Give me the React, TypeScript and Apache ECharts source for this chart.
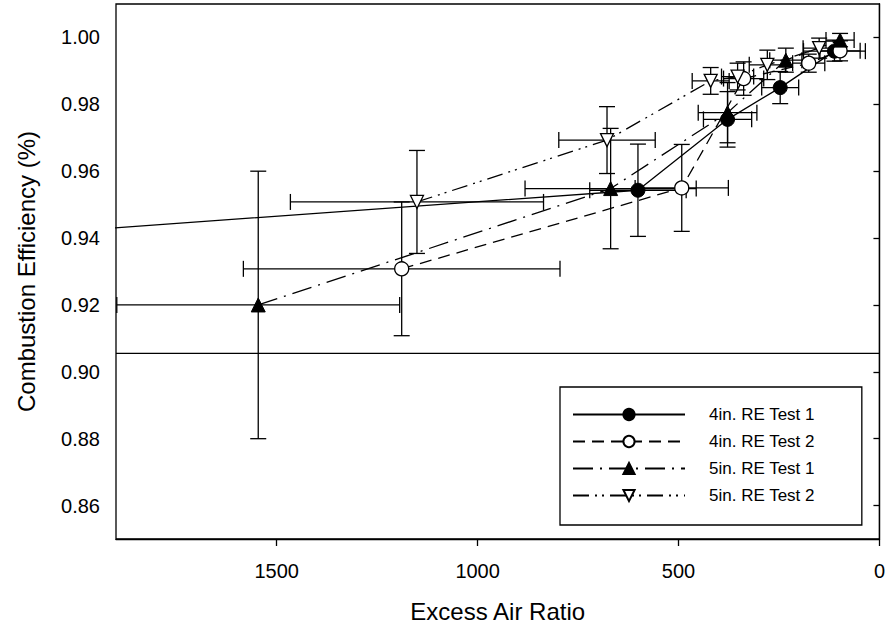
import React, { useEffect, useRef } from "react";
import * as echarts from "echarts";

// 4in. RE Test 1 (first point lies beyond the x-axis range; only its line segment shows)
const t41X = [2500, 601, 378, 247, 112];
const t41Y = [0.9379, 0.9543, 0.9755, 0.985, 0.9959];
const t41XErr = [0, 120, 60, 46, 77];
const t41YErr = [0, 0.0138, 0.0083, 0.0048, 0.003];

// 4in. RE Test 2
const t42X = [1189, 492, 338, 176, 98];
const t42Y = [0.9308, 0.955, 0.9877, 0.9923, 0.996];
const t42XErr = [394, 116, 50, 40, 50];
const t42YErr = [0.02, 0.013, 0.005, 0.0027, 0.003];

// 5in. RE Test 1
const t51X = [1546, 669, 378, 233, 98];
const t51Y = [0.92, 0.9548, 0.9775, 0.9932, 0.9992];
const t51XErr = [352, 213, 73, 40, 35];
const t51YErr = [0.04, 0.018, 0.009, 0.0036, 0.002];

// 5in. RE Test 2
const t52X = [1151, 678, 420, 353, 279, 150];
const t52Y = [0.9508, 0.9693, 0.987, 0.9883, 0.9918, 0.9968];
const t52XErr = [315, 120, 46, 40, 45, 40];
const t52YErr = [0.0154, 0.01, 0.004, 0.004, 0.0044, 0.003];

const refLineY = 0.9055;
const refLineX = [1900, 0];

const xTicks = [0, 500, 1000, 1500];
const yTicks = [0.86, 0.88, 0.9, 0.92, 0.94, 0.96, 0.98, 1.0];
const seriesNames = ["4in. RE Test 1", "4in. RE Test 2", "5in. RE Test 1", "5in. RE Test 2"];

const FONT = "'Liberation Sans', Arial, sans-serif";

const zip2 = (xs: number[], ys: number[]) => xs.map((x, i) => [x, ys[i]]);
const zip4 = (xs: number[], ys: number[], ex: number[], ey: number[]) =>
  xs.map((x, i) => [x, ys[i], ex[i], ey[i]]);

const renderErr = (params: any, api: any) => {
  const x = api.value(0);
  const y = api.value(1);
  const ex = api.value(2);
  const ey = api.value(3);
  const style = { stroke: "#000", lineWidth: 1.3, fill: "none" };
  const cap = 8;
  const children: any[] = [];
  if (ex > 0) {
    const a = api.coord([x + ex, y]);
    const b = api.coord([x - ex, y]);
    children.push({ type: "line", shape: { x1: a[0], y1: a[1], x2: b[0], y2: b[1] }, style });
    children.push({ type: "line", shape: { x1: a[0], y1: a[1] - cap, x2: a[0], y2: a[1] + cap }, style });
    children.push({ type: "line", shape: { x1: b[0], y1: b[1] - cap, x2: b[0], y2: b[1] + cap }, style });
  }
  if (ey > 0) {
    const a = api.coord([x, y + ey]);
    const b = api.coord([x, y - ey]);
    children.push({ type: "line", shape: { x1: a[0], y1: a[1], x2: b[0], y2: b[1] }, style });
    children.push({ type: "line", shape: { x1: a[0] - cap, y1: a[1], x2: a[0] + cap, y2: a[1] }, style });
    children.push({ type: "line", shape: { x1: b[0] - cap, y1: b[1], x2: b[0] + cap, y2: b[1] }, style });
  }
  return { type: "group", children };
};

const errSeries = (data: number[][]) => ({
  type: "custom",
  renderItem: renderErr,
  data,
  clip: true,
  encode: { x: 0, y: 1 },
  z: 2,
  silent: true,
});

export default function App() {
  const ref = useRef<HTMLDivElement>(null);
  useEffect(() => {
    if (!ref.current) return;
    const chart = echarts.init(ref.current, undefined, { renderer: "svg" });
    const lineW = 1.3;
    const option: any = {
      animation: false,
      backgroundColor: "#fff",
      textStyle: { fontFamily: FONT, color: "#000" },
      grid: {
        left: 116,
        right: 8,
        top: 4,
        bottom: 92,
        show: true,
        borderColor: "#000",
        borderWidth: 1.3,
        backgroundColor: "transparent",
      },
      legend: {
        data: seriesNames,
        left: 560,
        top: 387,
        orient: "vertical",
        itemWidth: 112,
        itemHeight: 14,
        itemGap: 10,
        padding: [19, 47, 21, 12],
        borderColor: "#000",
        borderWidth: 1.3,
        selectedMode: false,
        textStyle: { fontFamily: FONT, fontSize: 17, color: "#000", padding: [0, 0, 0, 19] },
      },
      xAxis: {
        type: "value",
        inverse: true,
        min: 0,
        max: 1900,
        interval: 500,
        name: "Excess Air Ratio",
        nameLocation: "middle",
        nameGap: 60,
        nameTextStyle: { fontFamily: FONT, fontSize: 24, color: "#000" },
        axisLine: { show: true, lineStyle: { color: "#000", width: 1.3 } },
        axisTick: { show: true, length: 7, customValues: xTicks, lineStyle: { color: "#000", width: 1.3 } },
        axisLabel: {
          fontFamily: FONT,
          fontSize: 20,
          color: "#000",
          margin: 22,
          customValues: xTicks,
          formatter: (v: number) => String(v),
        },
        splitLine: { show: false },
      },
      yAxis: {
        type: "value",
        min: 0.85,
        max: 1.01,
        name: "Combustion Efficiency (%)",
        nameLocation: "middle",
        nameGap: 78,
        nameTextStyle: { fontFamily: FONT, fontSize: 24, color: "#000" },
        axisLine: { show: true, lineStyle: { color: "#000", width: 1.3 } },
        axisTick: { show: true, length: 6, customValues: yTicks, lineStyle: { color: "#000", width: 1.3 } },
        axisLabel: {
          fontFamily: FONT,
          fontSize: 20,
          color: "#000",
          margin: 16,
          customValues: yTicks,
          formatter: (v: number) => v.toFixed(2),
        },
        splitLine: { show: false },
      },
      series: [
        {
          name: "ref",
          type: "line",
          data: refLineX.map((x) => [x, refLineY]),
          symbol: "none",
          lineStyle: { color: "#000", width: lineW },
          z: 3,
          silent: true,
        },
        errSeries(zip4(t41X, t41Y, t41XErr, t41YErr)),
        errSeries(zip4(t42X, t42Y, t42XErr, t42YErr)),
        errSeries(zip4(t51X, t51Y, t51XErr, t51YErr)),
        errSeries(zip4(t52X, t52Y, t52XErr, t52YErr)),
        {
          name: seriesNames[0],
          type: "line",
          data: zip2(t41X, t41Y),
          symbol: "circle",
          symbolSize: 14,
          showAllSymbol: true,
          itemStyle: { color: "#000", borderColor: "#000", borderWidth: 1 },
          lineStyle: { color: "#000", width: lineW, type: "solid" },
          z: 5,
        },
        {
          name: seriesNames[1],
          type: "line",
          data: zip2(t42X, t42Y),
          symbol: "circle",
          symbolSize: 14,
          showAllSymbol: true,
          itemStyle: { color: "#fff", borderColor: "#000", borderWidth: 1.3 },
          lineStyle: { color: "#000", width: lineW, type: [12, 7] },
          z: 5,
        },
        {
          name: seriesNames[2],
          type: "line",
          data: zip2(t51X, t51Y),
          symbol: "triangle",
          symbolSize: 14,
          showAllSymbol: true,
          itemStyle: { color: "#000", borderColor: "#000", borderWidth: 1 },
          lineStyle: { color: "#000", width: lineW, type: [20, 7, 2, 7] },
          z: 5,
        },
        {
          name: seriesNames[3],
          type: "line",
          data: zip2(t52X, t52Y),
          symbol: "triangle",
          symbolRotate: 180,
          symbolSize: 13,
          showAllSymbol: true,
          itemStyle: { color: "#fff", borderColor: "#000", borderWidth: 1.3 },
          lineStyle: { color: "#000", width: lineW, type: [16, 6, 2, 5, 2, 6] },
          z: 5,
        },
      ],
    };
    chart.setOption(option);
    return () => chart.dispose();
  }, []);
  return <div ref={ref} style={{ width: 888, height: 631, position: "absolute", left: 0, top: 0 }} />;
}
